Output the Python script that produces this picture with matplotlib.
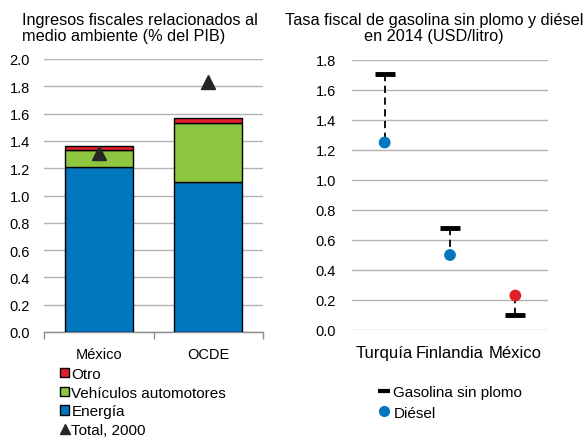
import matplotlib
matplotlib.use("Agg")
import matplotlib.pyplot as plt
from matplotlib.patches import Patch
from matplotlib.lines import Line2D
import numpy as np

plt.rcParams['font.family'] = ['Liberation Sans', 'DejaVu Sans']

# ---- Left panel data ----
regions = ["México", "OCDE"]
energia = [1.21, 1.10]
vehiculos = [0.12, 0.43]
otro = [0.03, 0.04]
total_2000 = [1.31, 1.83]
left_yticks = [0.0, 0.2, 0.4, 0.6, 0.8, 1.0, 1.2, 1.4, 1.6, 1.8, 2.0]

# ---- Right panel data ----
countries = ["Turquía", "Finlandia", "México"]
gasolina = [1.71, 0.68, 0.10]
diesel = [1.25, 0.50, 0.23]
right_yticks = [0.0, 0.2, 0.4, 0.6, 0.8, 1.0, 1.2, 1.4, 1.6, 1.8]

BLUE = "#0077BE"
GREEN = "#8DC63F"
RED = "#E2202A"
GRID = "#B3B3B3"

W, H = 584, 439
fig = plt.figure(figsize=(W / 100, H / 100), dpi=100)

def fx(px):
    return px / W

def fy(py):
    return 1 - py / H

# ---------- Left axes ----------
axL = fig.add_axes([fx(44), fy(333), fx(263) - fx(44), fy(60) - fy(333)])
x = np.arange(len(regions))
bw = 0.62
axL.bar(x, energia, bw, color=BLUE, edgecolor="black", linewidth=1.0, zorder=3)
axL.bar(x, vehiculos, bw, bottom=energia, color=GREEN, edgecolor="black", linewidth=1.0, zorder=3)
bottom2 = [a + b for a, b in zip(energia, vehiculos)]
axL.bar(x, otro, bw, bottom=bottom2, color=RED, edgecolor="black", linewidth=1.0, zorder=3)
axL.plot(x, total_2000, linestyle="none", marker="^", markersize=9.5, color="#262626", zorder=4)

axL.set_xlim(-0.5, 1.5)
axL.set_ylim(0, 2.0)
axL.set_yticks(left_yticks)
axL.set_yticklabels([f"{v:.1f}" for v in left_yticks], fontsize=10.5)
axL.yaxis.grid(True, color=GRID, linewidth=1.0, zorder=0)
axL.set_axisbelow(True)
for s in ["left", "right", "top"]:
    axL.spines[s].set_visible(False)
axL.spines["bottom"].set_color("#8C8C8C")
axL.spines["bottom"].set_linewidth(1.0)
axL.tick_params(axis="y", length=0, pad=10)
axL.set_xticks([-0.5, 0.5, 1.5])
axL.set_xticklabels([])
axL.tick_params(axis="x", length=5, color="#8C8C8C", width=1.0)
axL.set_xticks(x, minor=True)
axL.set_xticklabels(regions, minor=True, fontsize=10.5)
axL.tick_params(axis="x", which="minor", length=0, pad=10.5)

fig.text(fx(22), fy(13), "Ingresos fiscales relacionados al\nmedio ambiente (% del PIB)",
         ha="left", va="top", fontsize=11.7, linespacing=1.12)

handlesL = [
    Patch(facecolor=RED, edgecolor="black", linewidth=1.0, label="Otro"),
    Patch(facecolor=GREEN, edgecolor="black", linewidth=1.0, label="Vehículos automotores"),
    Patch(facecolor=BLUE, edgecolor="black", linewidth=1.0, label="Energía"),
    Line2D([], [], linestyle="none", marker="^", markersize=6.5, color="#262626", label="Total, 2000"),
]
legL = fig.legend(handles=handlesL, loc="upper left", bbox_to_anchor=(fx(60), fy(368)),
                  frameon=False, fontsize=11, borderpad=0, borderaxespad=0,
                  handlelength=0.6, handleheight=0.6, handletextpad=0.15, labelspacing=0.31)

# ---------- Right axes ----------
axR = fig.add_axes([fx(352), fy(331), fx(548) - fx(352), fy(61) - fy(331)])
xr = np.arange(len(countries))
for i in range(len(countries)):
    axR.plot([xr[i], xr[i]], [gasolina[i], diesel[i]], color="black", linewidth=1.3,
             linestyle=(0, (4, 2.5)), zorder=2)
axR.plot(xr, gasolina, linestyle="none", marker="_", markersize=14, markeredgewidth=3.5,
         color="black", zorder=3)
diesel_colors = [BLUE, BLUE, RED]
axR.scatter(xr, diesel, s=72, c=diesel_colors, zorder=4, linewidths=0)

axR.set_xlim(-0.5, 2.5)
axR.set_ylim(0, 1.8)
axR.set_yticks(right_yticks)
axR.set_yticklabels([f"{v:.1f}" for v in right_yticks], fontsize=10.5)
axR.yaxis.grid(True, color=GRID, linewidth=1.0, zorder=0)
axR.set_axisbelow(True)
for s in ["left", "right", "top", "bottom"]:
    axR.spines[s].set_visible(False)
axR.tick_params(axis="y", length=0, pad=11.5)
axR.set_xticks(xr)
axR.set_xticklabels(countries, fontsize=12)
axR.tick_params(axis="x", length=0, pad=10.5)

fig.text(fx(434), fy(13), "Tasa fiscal de gasolina sin plomo y diésel\nen 2014 (USD/litro)",
         ha="center", va="top", fontsize=11.7, linespacing=1.12)

handlesR = [
    Line2D([], [], linestyle="none", marker="_", markersize=8, markeredgewidth=3, color="black",
           label="Gasolina sin plomo"),
    Line2D([], [], linestyle="none", marker="o", markersize=8, color=BLUE, markeredgewidth=0,
           label="Diésel"),
]
legR = fig.legend(handles=handlesR, loc="upper left", bbox_to_anchor=(fx(378), fy(386)),
                  frameon=False, fontsize=11, borderpad=0, borderaxespad=0,
                  handlelength=0.8, handletextpad=0.2, labelspacing=0.43)

fig.savefig("out.png", dpi=100)
